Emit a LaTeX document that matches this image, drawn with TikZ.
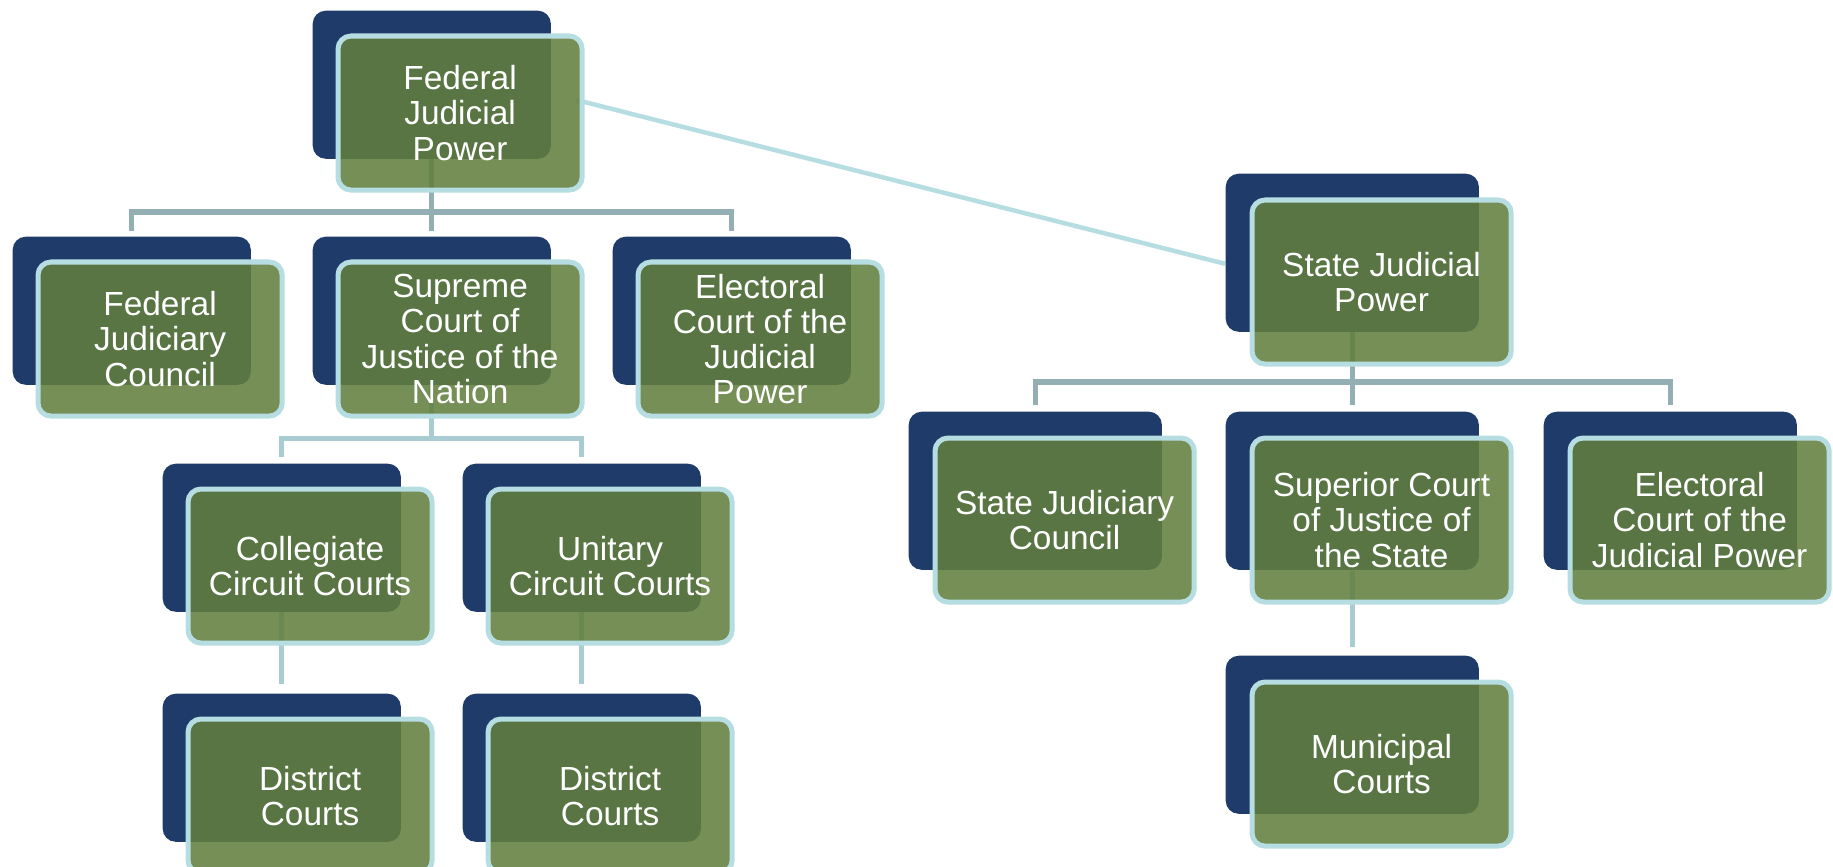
\documentclass[tikz,border=0pt]{standalone}
\usepackage{fontspec}
\setmainfont{Liberation Sans}
\usetikzlibrary{calc}
\definecolor{navy}{HTML}{1F3B6A}
\definecolor{moss}{RGB}{97,126,62}
\definecolor{rim}{HTML}{B6DDE1}
\definecolor{link}{HTML}{93AFB3}
\definecolor{linklt}{HTML}{A8CCD1}
\pgfdeclarelayer{bg}
\pgfsetlayers{bg,main}

\begin{document}
\begin{tikzpicture}[x=0.01cm, y=-0.01cm,
  back/.style={fill=navy, rounded corners=0.13cm, anchor=north west, inner sep=0pt},
  fback/.style={back, minimum width=2.38cm, minimum height=1.48cm},
  sback/.style={back, minimum width=2.53cm, minimum height=1.58cm},
  card/.style={fill=moss, fill opacity=0.87, text opacity=1, draw=rim,
               line width=0.05cm, rounded corners=0.13cm, anchor=north west,
               inner sep=0pt, align=center, text=white,
               font=\fontsize{9.5}{10}\selectfont},
  fcard/.style={card, minimum width=2.44cm, minimum height=1.54cm},
  scard/.style={card, minimum width=2.59cm, minimum height=1.64cm},
  conn/.style={draw=link, line width=0.05cm},
  connlt/.style={draw=linklt, line width=0.05cm},
  cross/.style={draw=rim, line width=0.045cm}]

\useasboundingbox (0,0) rectangle (1833,867);

% federal branch
\node[fback] (fjpB) at (312,10) {};
\node[fcard] (fjpG) at ($(fjpB.north west)+(23.5,23.5)$) {Federal\\Judicial\\Power};

\node[fback] (fjcB) at (12,236) {};
\node[fcard] (fjcG) at ($(fjcB.north west)+(23.5,23.5)$) {Federal\\Judiciary\\Council};
\node[fback] (scjB) at (312,236) {};
\node[fcard] (scjG) at ($(scjB.north west)+(23.5,23.5)$) {Supreme\\Court of\\Justice of the\\Nation};
\node[fback] (ecjB) at (612,236) {};
\node[fcard] (ecjG) at ($(ecjB.north west)+(23.5,23.5)$) {Electoral\\Court of the\\Judicial\\Power};

\node[fback] (colB) at (162,463) {};
\node[fcard] (colG) at ($(colB.north west)+(23.5,23.5)$) {Collegiate\\Circuit Courts};
\node[fback] (uniB) at (462,463) {};
\node[fcard] (uniG) at ($(uniB.north west)+(23.5,23.5)$) {Unitary\\Circuit Courts};

\node[fback] (dis1B) at (162,693) {};
\node[fcard] (dis1G) at ($(dis1B.north west)+(23.5,23.5)$) {District\\Courts};
\node[fback] (dis2B) at (462,693) {};
\node[fcard] (dis2G) at ($(dis2B.north west)+(23.5,23.5)$) {District\\Courts};

% state branch
\node[sback] (sjpB) at (1225,173) {};
\node[scard] (sjpG) at ($(sjpB.north west)+(24.5,24.5)$) {State Judicial\\Power};

\node[sback] (sjcB) at (908,411) {};
\node[scard] (sjcG) at ($(sjcB.north west)+(24.5,24.5)$) {State Judiciary\\Council};
\node[sback] (scsB) at (1225,411) {};
\node[scard] (scsG) at ($(scsB.north west)+(24.5,24.5)$) {Superior Court\\of Justice of\\the State};
\node[sback] (ecsB) at (1543,411) {};
\node[scard] (ecsG) at ($(ecsB.north west)+(24.5,24.5)$) {Electoral\\Court of the\\Judicial Power};

\node[sback] (munB) at (1225,655) {};
\node[scard] (munG) at ($(munB.north west)+(24.5,24.5)$) {Municipal\\Courts};

\begin{pgfonlayer}{bg}
\draw[cross] ($(fjpG.east)+(-8,-13)$) -- ($(sjpB.west)+(0,11)$);
\foreach \c in {fjcB,scjB,ecjB}
  \draw[conn] (fjpB.south) |- ($(\c.north)+(0,-24)$) -- ($(\c.north)+(0,-5)$);
\foreach \c in {colB,uniB}
  \draw[connlt] (scjB.south) |- ($(\c.north)+(0,-25)$) -- ($(\c.north)+(0,-6)$);
\draw[connlt] (colB.south) -- ($(dis1B.north)+(0,-9)$);
\draw[connlt] (uniB.south) -- ($(dis2B.north)+(0,-9)$);
\foreach \c in {sjcB,scsB,ecsB}
  \draw[conn] (sjpB.south) |- ($(\c.north)+(0,-29)$) -- ($(\c.north)+(0,-6)$);
\draw[connlt] (scsB.south) -- ($(munB.north)+(0,-8)$);
\end{pgfonlayer}
\end{tikzpicture}
\end{document}
